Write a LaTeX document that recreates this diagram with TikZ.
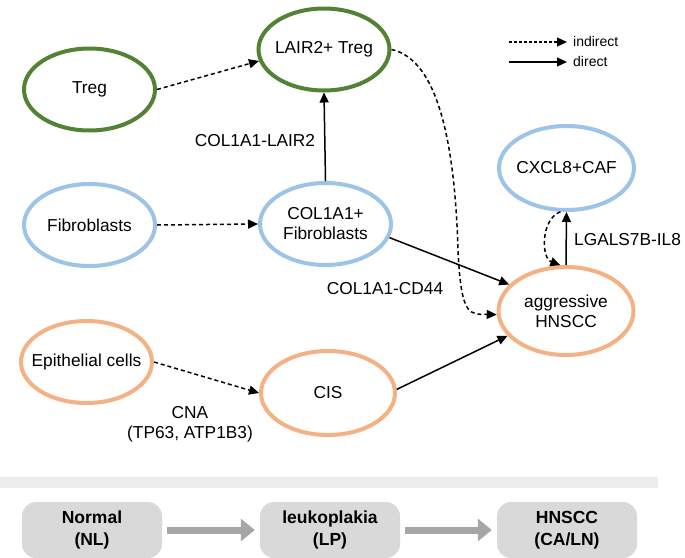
\documentclass[tikz,border=0pt]{standalone}
\usepackage{fontspec}
\setmainfont{Liberation Sans}
\usetikzlibrary{shapes.geometric,arrows.meta}
\definecolor{tgreen}{HTML}{548235}
\definecolor{tblue}{HTML}{9DC3E6}
\definecolor{torange}{HTML}{F4B183}
\definecolor{bandgray}{HTML}{EDEDED}
\definecolor{boxgray}{HTML}{D9D9D9}
\definecolor{arrgray}{HTML}{A6A6A6}
\begin{document}
\begin{tikzpicture}[x=1pt,y=-1pt,
  lbl/.style={font=\fontsize{17.3}{20}\selectfont, inner sep=0pt, align=center},
  cell/.style={ellipse, line width=4pt, minimum width=131pt, minimum height=82pt, inner sep=0pt, label={[lbl]center:#1}},
  gcell/.style={cell=#1, draw=tgreen},
  bcell/.style={cell=#1, draw=tblue},
  ocell/.style={cell=#1, draw=torange},
  direct/.style={line width=1.5pt, -{Triangle[length=10pt,width=9pt]}},
  indirect/.style={line width=1.5pt, dash pattern=on 4pt off 3pt, -{Triangle[length=10pt,width=9pt]}},
  stage/.style={fill=boxgray, rounded corners=14pt, minimum width=140pt, minimum height=56pt, inner sep=0pt, align=center, font=\bfseries\fontsize{17.5}{21.5}\selectfont},
  stagearrow/.style={draw=arrgray, line width=7pt, -{Triangle[length=14pt,width=22pt]}}
]
\useasboundingbox (0,0) rectangle (685,557);

% cells
\node[gcell={Treg}] (treg) at (89.5,89.5) {};
\node[gcell={LAIR2+ Treg}] (lair) at (324,49.5) {};
\node[bcell={Fibroblasts}] (fib) at (89.5,225) {};
\node[bcell={COL1A1+\\Fibroblasts}] (col) at (325.5,224) {};
\node[ocell={Epithelial cells}] (epi) at (86.5,362) {};
\node[ocell={CIS}, minimum width=134pt, minimum height=84pt] (cis) at (328,393) {};
\node[bcell={CXCL8+CAF}, minimum width=135pt, minimum height=84pt] (cxcl) at (566.5,168) {};
\node[ocell={aggressive\\HNSCC}, minimum width=135pt, minimum height=88pt] (agg) at (566,311) {};

% connectors
\draw[indirect] (treg.east) -- (lair.190);
\draw[indirect] (fib.east) -- (col.west);
\draw[indirect] (epi.east) -- (cis.180);
\draw[direct] (col.north) -- (lair.south);
\draw[direct] (col.-12) -- (agg.155);
\draw[direct] (cis.3) -- (agg.203);
\draw[indirect] (lair.east) .. controls (440,60) and (455,150) .. (458,250) .. controls (461,318) and (470,314) .. (agg.183);
\draw[direct] (agg.north) -- (cxcl.south);
\draw[indirect] (cxcl.262) to[bend right=70] (agg.97);

% labels
\node[lbl] (l1) at (255,141) {COL1A1-LAIR2};
\node[lbl] (l2) at (385,289) {COL1A1-CD44};
\node[lbl, anchor=west] (l3) at (574,240) {LGALS7B-IL8};
\node[lbl] (l4) at (190,424) {CNA\\(TP63, ATP1B3)};

% legend
\coordinate (li1) at (509,42);
\coordinate (li2) at (567,42);
\coordinate (ld1) at (509,62);
\coordinate (ld2) at (567,62);
\draw[indirect, line width=1.2pt, dash pattern=on 3pt off 2pt] (li1) -- (li2);
\draw[direct, line width=1.2pt] (ld1) -- (ld2);
\node[lbl, anchor=west, font=\fontsize{14}{16}\selectfont] (lit) at (573,41) {indirect};
\node[lbl, anchor=west, font=\fontsize{14}{16}\selectfont] (ldt) at (573,61) {direct};

% bottom band
\fill[bandgray] (0,477) rectangle (658,488);

\node[stage] (s1) at (92,530) {Normal\\(NL)};
\node[stage] (s2) at (330,530) {leukoplakia\\(LP)};
\node[stage] (s3) at (567,530) {HNSCC\\(CA/LN)};
\draw[stagearrow] ([xshift=5pt]s1.east) -- ([xshift=-5pt]s2.west);
\draw[stagearrow] ([xshift=5pt]s2.east) -- ([xshift=-5pt]s3.west);
\end{tikzpicture}
\end{document}
